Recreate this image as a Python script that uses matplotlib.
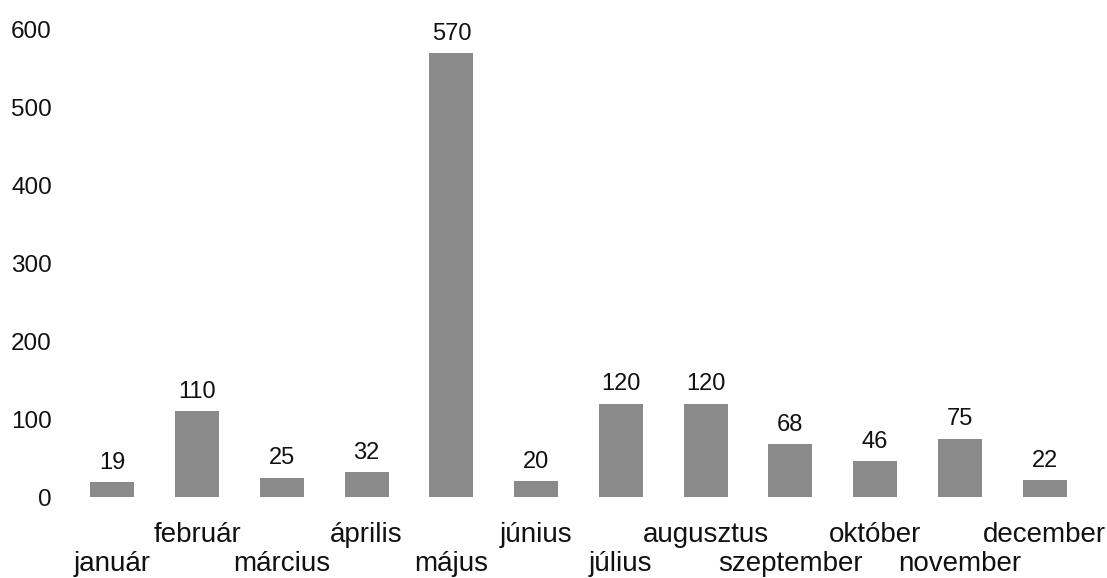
import matplotlib
matplotlib.use("Agg")
import matplotlib.pyplot as plt

months = ["január", "február", "március", "április", "május", "június",
          "július", "augusztus", "szeptember", "október", "november", "december"]
values = [19, 110, 25, 32, 570, 20, 120, 120, 68, 46, 75, 22]
yticks = [0, 100, 200, 300, 400, 500, 600]

plt.rcParams['font.family'] = ['Liberation Sans', 'DejaVu Sans']

fig = plt.figure(figsize=(11.07, 5.78), dpi=100)
ax = fig.add_axes([70/1107, 1-497/578, (1087-70)/1107, (497-30)/578])

x = list(range(len(months)))
ax.bar(x, values, width=0.52, color="#8a8a8a")
for xi, v in zip(x, values):
    ax.annotate(str(v), (xi, v), xytext=(0, 6), textcoords="offset points",
                ha="center", va="bottom", fontsize=17, color="#111111")

ax.set_xlim(-0.5, 11.5)
ax.set_ylim(0, 600)
ax.set_yticks(yticks)
ax.set_yticklabels([str(t) for t in yticks], fontsize=17.5, color="#111111")
ax.set_xticks(x)
ax.set_xticklabels(months, fontsize=20, color="#111111")
for i, t in enumerate(ax.xaxis.get_major_ticks()):
    t.set_pad(18 if i % 2 == 1 else 39)
ax.tick_params(axis="both", length=0)
ax.tick_params(axis="y", pad=13)
for s in ax.spines.values():
    s.set_visible(False)

fig.savefig("out.png", dpi=100)
